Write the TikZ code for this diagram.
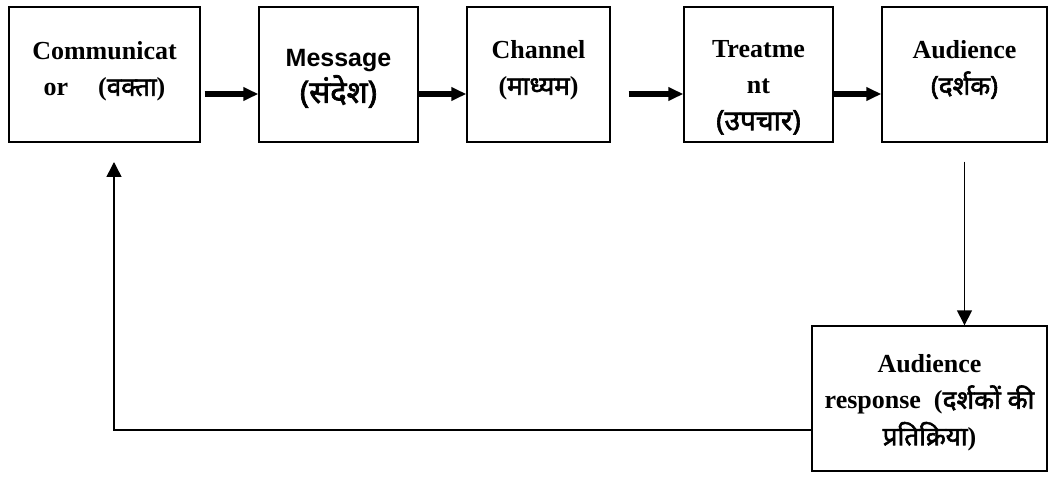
\documentclass[tikz,border=0pt]{standalone}
\usepackage{fontspec}
\setmainfont{Liberation Serif}
\newfontfamily\sansb{Liberation Sans}
\newfontfamily\hindifont[Script=Devanagari, FakeBold=2.2]{Noto Sans}
\newcommand\hin{\hindifont\mdseries}
\usetikzlibrary{arrows.meta}
\begin{document}
\begin{tikzpicture}[x=1pt,y=-1pt,
  box/.style={draw, line width=1.4pt, inner sep=0pt, minimum height=135pt},
  lbl/.style={anchor=north, inner sep=0pt, align=center,
    font=\fontsize{26}{36.5}\selectfont\bfseries},
  fat/.style={line width=6pt, -{Triangle[length=15pt,width=13pt]}},
  thinarrow/.style={line width=1.5pt, -{Triangle[length=15pt,width=15pt]}}]
\path[fill=white, use as bounding box] (0,0) rectangle (1052,481);

\node[box, minimum width=191pt] (b1) at (104.5,74.5) {};
\node[box, minimum width=159pt] (b2) at (338.5,74.5) {};
\node[box, minimum width=143pt] (b3) at (538.5,74.5) {};
\node[box, minimum width=149pt] (b4) at (758.5,74.5) {};
\node[box, minimum width=165pt] (b5) at (964.5,74.5) {};
\node[box, minimum width=235pt, minimum height=145pt] (r) at (929.5,398.5) {};

\node[lbl] (t1) at (104.5,41) {Communicat\\or\hspace{30pt}({\hin वक्ता})};
\node[lbl] (t2) at (338.5,49) {{\sansb\fontsize{25}{36.5}\selectfont Message}\\{\hin\fontsize{31}{36.5}\selectfont (संदेश)}};
\node[lbl] (t3) at (538.5,40) {Channel\\({\hin माध्यम})};
\node[lbl] (t4) at (758.5,40) {Treatme\\nt\\{\hin\fontsize{28}{36.5}\selectfont (उपचार)}};
\node[lbl] (t5) at (964.5,40) {Audience\\{\hin (दर्शक)}};
\node[lbl] (tr) at (929.5,354) {Audience\\response\ \ ({\hin दर्शकों की}\\{\hin प्रतिक्रिया})};

\draw[fat] ([xshift=4pt,yshift=-19.5pt]b1.east) -- ([yshift=-19.5pt]b2.west);
\draw[fat] ([yshift=-19.5pt]b2.east) -- ([yshift=-19.5pt]b3.west);
\draw[fat] ([xshift=18pt,yshift=-19.5pt]b3.east) -- ([yshift=-19.5pt]b4.west);
\draw[fat] ([yshift=-19.5pt]b4.east) -- ([yshift=-19.5pt]b5.west);

\draw[thinarrow] ([yshift=-19pt]b5.south) -- (b5.south |- r.north);

\coordinate (fbturn) at (114,430);
\coordinate (fbend) at (114,162);
\draw[thinarrow] (r.west |- fbturn) -- (fbturn) -- (fbend);
\end{tikzpicture}
\end{document}
